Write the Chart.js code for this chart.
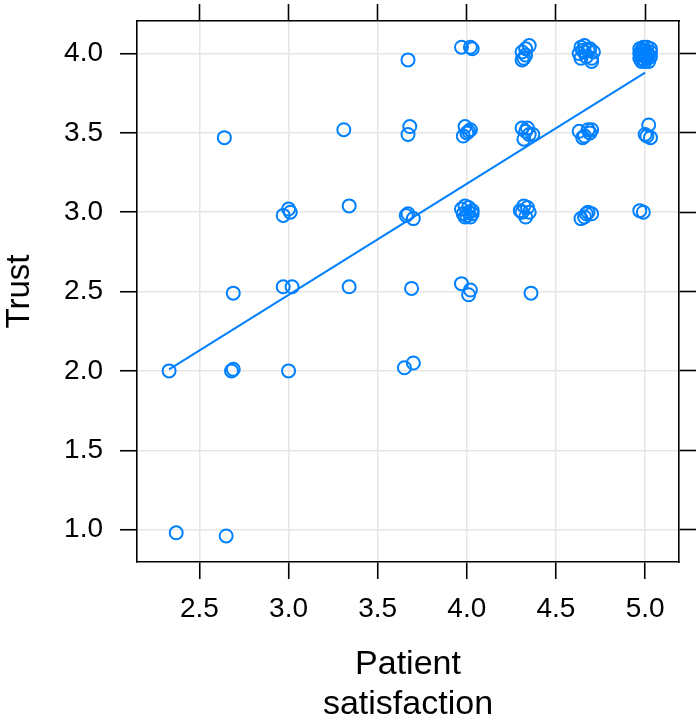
<!DOCTYPE html>
<html>
<head>
<meta charset="utf-8">
<script src="https://cdn.jsdelivr.net/npm/chart.js@4"></script>
<style>
  body { margin: 0; background: #fff; }
  canvas { display: block; }
</style>
</head>
<body>
<canvas id="scatterChart" width="700" height="725"></canvas>
<script>
// jittered points
const satisfaction = [
    2.37, 2.65,
    2.33, 2.68, 2.69, 3.00, 3.65, 3.70,
    2.69, 2.97, 3.02, 3.34, 3.69, 3.97, 4.02, 4.01, 4.36,
    2.97, 3.00, 3.01, 3.34, 3.66, 3.67, 3.70,
    3.97, 3.99, 4.01, 4.03, 3.98, 4.00, 4.02, 4.03, 3.99, 4.01,
    4.30, 4.32, 4.34, 4.35, 4.33, 4.31,
    4.64, 4.67, 4.66, 4.68, 4.70, 4.97, 4.99,
    2.64, 3.31, 3.68, 3.67,
    3.99, 4.00, 3.98, 4.02, 4.01,
    4.31, 4.34, 4.32, 4.35, 4.37, 4.33,
    4.63, 4.66, 4.68, 4.65, 4.69, 4.70,
    5.02, 5.01, 5.03, 5.00,
    3.67, 3.97, 4.02, 4.03,
    4.35, 4.31, 4.31, 4.33, 4.33, 4.32,
    4.64, 4.66, 4.69, 4.63, 4.66, 4.70, 4.64, 4.70, 4.68, 4.71, 4.67, 4.65,
    4.97, 4.99, 5.01, 5.03, 4.97, 4.99, 5.01, 5.03, 4.97, 4.99,
    5.01, 5.03, 4.98, 5.00, 5.02, 4.98, 5.00, 5.02, 5.00, 4.98
];
const trust = [
    0.98, 0.96,
    2.00, 2.00, 2.01, 2.00, 2.02, 2.05,
    2.49, 2.53, 2.53, 2.53, 2.52, 2.55, 2.51, 2.48, 2.49,
    2.98, 3.02, 3.00, 3.04, 2.98, 2.99, 2.96,
    3.02, 3.04, 3.03, 3.01, 2.99, 2.98, 2.97, 2.99, 2.97, 3.00,
    3.01, 3.04, 3.03, 3.00, 2.97, 3.00,
    2.96, 2.99, 2.97, 3.00, 2.99, 3.01, 3.00,
    3.47, 3.52, 3.54, 3.49,
    3.54, 3.50, 3.48, 3.52, 3.51,
    3.53, 3.53, 3.46, 3.49, 3.49, 3.51,
    3.51, 3.48, 3.52, 3.47, 3.50, 3.52,
    3.55, 3.48, 3.47, 3.49,
    3.96, 4.04, 4.04, 4.03,
    4.05, 4.01, 3.96, 3.99, 4.03, 3.97,
    4.04, 4.05, 4.03, 4.00, 4.01, 3.97, 3.97, 3.95, 4.02, 4.01, 3.98, 4.02,
    4.03, 4.04, 4.04, 4.03, 4.00, 4.01, 4.00, 4.01, 3.97, 3.96,
    3.97, 3.98, 3.95, 3.95, 3.95, 3.99, 4.02, 3.99, 3.98, 4.02
];

// fitted line end points
const fitX = [2.33, 5.0];
const fitY = [2.01, 3.88];

const xTicks = [2.5, 3.0, 3.5, 4.0, 4.5, 5.0];
const yTicks = [1.0, 1.5, 2.0, 2.5, 3.0, 3.5, 4.0];

const blue = '#0080ff';
const fontFamily = "'Liberation Sans', Arial, sans-serif";

function setTicks(list) {
    return function (scale) {
        scale.ticks = list.map(v => ({ value: v }));
    };
}

// fix the box size and drop the label overflow padding
function fixSize(axis, size) {
    return function (scale) {
        if (axis === 'x') scale.height = size; else scale.width = size;
        scale.paddingTop = 0;
        scale.paddingBottom = 0;
        scale.paddingLeft = 0;
        scale.paddingRight = 0;
    };
}

function frameScale(position, axis, size) {
    return {
        type: 'linear',
        position: position,
        axis: axis,
        min: axis === 'x' ? 2.15 : 0.796,
        max: axis === 'x' ? 5.19 : 4.205,
        afterBuildTicks: setTicks(axis === 'x' ? xTicks : yTicks),
        afterFit: fixSize(axis, size),
        ticks: { display: false },
        grid: { drawOnChartArea: false, tickLength: 17, tickColor: '#000', tickWidth: 1.6 },
        border: { display: true, color: '#000', width: 1.6 }
    };
}

document.addEventListener("DOMContentLoaded", function () {
    const points = satisfaction.map((x, i) => ({ x: x, y: trust[i] }));
    const fit = fitX.map((x, i) => ({ x: x, y: fitY[i] }));

    const ctx = document.getElementById('scatterChart').getContext('2d');
    new Chart(ctx, {
        type: 'scatter',
        data: {
            datasets: [{
                data: points,
                pointStyle: 'circle',
                pointRadius: 6.5,
                pointBorderWidth: 2,
                borderColor: blue,
                backgroundColor: 'rgba(0,0,0,0)'
            }, {
                type: 'line',
                data: fit,
                borderColor: blue,
                borderWidth: 2,
                pointRadius: 0,
                fill: false
            }]
        },
        options: {
            responsive: false,
            animation: false,
            layout: { padding: 0 },
            plugins: {
                legend: { display: false },
                tooltip: { enabled: false }
            },
            scales: {
                x: {
                    type: 'linear',
                    position: 'bottom',
                    min: 2.15,
                    max: 5.19,
                    afterBuildTicks: setTicks(xTicks),
                    afterFit: fixSize('x', 163),
                    ticks: {
                        color: '#000',
                        font: { family: fontFamily, size: 28 },
                        padding: 13,
                        maxRotation: 0,
                        callback: v => v.toFixed(1)
                    },
                    grid: { color: '#e6e6e6', lineWidth: 1.5, tickLength: 17, tickColor: '#000', tickWidth: 1.6 },
                    border: { display: true, color: '#000', width: 1.6 },
                    title: {
                        display: true,
                        text: ['Patient', 'satisfaction'],
                        color: '#000',
                        font: { family: fontFamily, size: 34, lineHeight: 1.18 },
                        padding: { top: 0, bottom: 0 }
                    }
                },
                x2: frameScale('top', 'x', 21),
                y: {
                    type: 'linear',
                    position: 'left',
                    min: 0.796,
                    max: 4.205,
                    afterBuildTicks: setTicks(yTicks),
                    afterFit: fixSize('y', 137),
                    ticks: {
                        color: '#000',
                        font: { family: fontFamily, size: 28 },
                        padding: 17,
                        callback: v => v.toFixed(1)
                    },
                    grid: { color: '#e6e6e6', lineWidth: 1.5, tickLength: 17, tickColor: '#000', tickWidth: 1.6 },
                    border: { display: true, color: '#000', width: 1.6 },
                    title: {
                        display: true,
                        text: 'Trust',
                        color: '#000',
                        font: { family: fontFamily, size: 33, lineHeight: 1.2 },
                        padding: { top: 0, bottom: 0 }
                    }
                },
                y2: frameScale('right', 'y', 21)
            }
        }
    });
});
</script>
</body>
</html>
